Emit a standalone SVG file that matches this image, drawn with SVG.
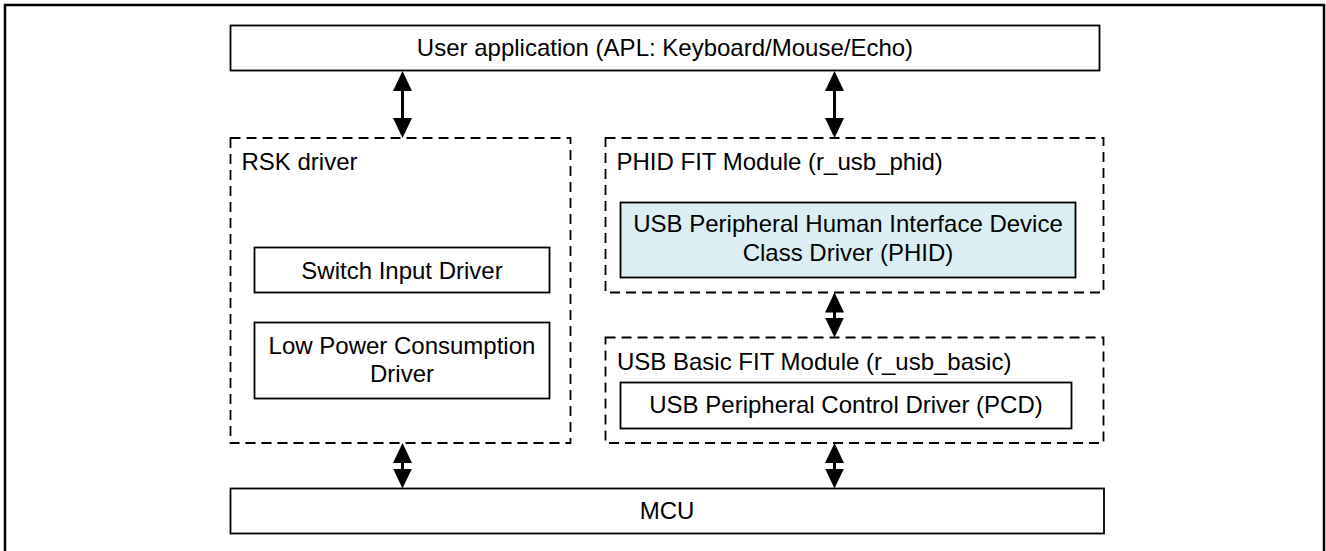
<svg xmlns="http://www.w3.org/2000/svg" width="1326" height="551" viewBox="0 0 1326 551">
  <style>
    .box{fill:#ffffff;stroke:#000000;stroke-width:1.8}
    .hl{fill:#daeef3;stroke:#000000;stroke-width:1.8}
    .dash{fill:none;stroke:#000000;stroke-width:1.8;stroke-dasharray:10 6}
    .frame{fill:#ffffff;stroke:#000000;stroke-width:2.5}
    text{font-family:"Liberation Sans",Arial,sans-serif;font-size:24px;fill:#000000}
    .c{text-anchor:middle}
    .shaft{stroke:#000000;stroke-width:3;fill:none}
  </style>
  <defs>
    <marker id="head" viewBox="0 0 20 19" refX="2" refY="9.5" markerWidth="20" markerHeight="19" markerUnits="userSpaceOnUse" orient="auto-start-reverse">
      <path d="M0,0 L20,9.5 L0,19 Z" fill="#000000"/>
    </marker>
  </defs>
  <rect class="frame" x="5" y="5" width="1319" height="600"/>

  <g id="user-app">
    <rect class="box" x="230.5" y="25.5" width="869" height="45"/>
    <text class="c" x="665" y="56">User application (APL: Keyboard/Mouse/Echo)</text>
  </g>

  <g id="rsk-driver">
    <rect class="dash" x="230.5" y="138" width="340" height="305"/>
    <text x="241.5" y="170">RSK driver</text>
  </g>
  <g id="switch-input">
    <rect class="box" x="254.5" y="247.5" width="295" height="45"/>
    <text class="c" x="402" y="278.5">Switch Input Driver</text>
  </g>
  <g id="low-power">
    <rect class="box" x="254.5" y="322.5" width="295" height="76"/>
    <text class="c" x="402" y="353.5">Low Power Consumption</text>
    <text class="c" x="402" y="381.5">Driver</text>
  </g>

  <g id="phid-fit">
    <rect class="dash" x="605.5" y="138" width="498" height="154.5"/>
    <text x="616.5" y="170">PHID FIT Module (r_usb_phid)</text>
  </g>
  <g id="phid-class">
    <rect class="hl" x="620.5" y="202.5" width="455" height="75"/>
    <text class="c" x="848" y="232">USB Peripheral Human Interface Device</text>
    <text class="c" x="848" y="260.5">Class Driver (PHID)</text>
  </g>

  <g id="usb-basic">
    <rect class="dash" x="605.5" y="337.5" width="498" height="105.5"/>
    <text x="617" y="370">USB Basic FIT Module (r_usb_basic)</text>
  </g>
  <g id="pcd">
    <rect class="box" x="620.5" y="382.5" width="451" height="46"/>
    <text class="c" x="846" y="413">USB Peripheral Control Driver (PCD)</text>
  </g>

  <g id="mcu">
    <rect class="box" x="230.5" y="488.5" width="873.5" height="45"/>
    <text class="c" x="667" y="519">MCU</text>
  </g>

  <g id="connectors">
    <line class="shaft" x1="402.5" y1="89" x2="402.5" y2="120" marker-start="url(#head)" marker-end="url(#head)"/>
    <line class="shaft" x1="834.5" y1="89" x2="834.5" y2="120" marker-start="url(#head)" marker-end="url(#head)"/>
    <line class="shaft" x1="834.5" y1="310.5" x2="834.5" y2="319.5" marker-start="url(#head)" marker-end="url(#head)"/>
    <line class="shaft" x1="402.5" y1="461" x2="402.5" y2="470.5" marker-start="url(#head)" marker-end="url(#head)"/>
    <line class="shaft" x1="834.5" y1="461" x2="834.5" y2="470.5" marker-start="url(#head)" marker-end="url(#head)"/>
  </g>
</svg>
